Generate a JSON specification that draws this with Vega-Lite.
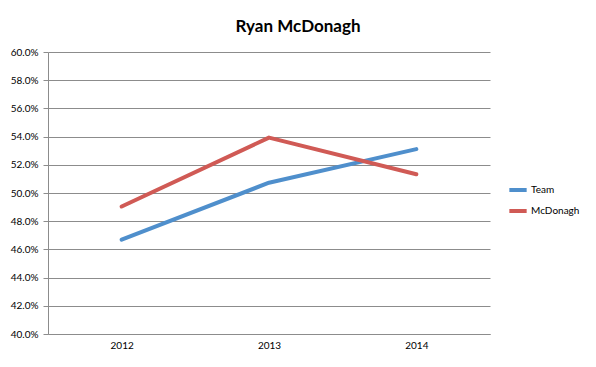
{
  "$schema": "https://vega.github.io/schema/vega-lite/v6.json",
  "width": 442,
  "height": 282,
  "autosize": {"type": "none"},
  "padding": {"left": 48, "top": 52, "right": 106, "bottom": 33},
  "background": "white",
  "title": {
    "text": "Ryan McDonagh",
    "font": "Lato",
    "fontSize": 17,
    "fontWeight": "bold",
    "color": "black",
    "anchor": "middle",
    "dx": 29,
    "offset": 11
  },
  "data": {
    "values": [
      {"year": "2012", "series": "Team", "value": 0.4669},
      {"year": "2013", "series": "Team", "value": 0.5073},
      {"year": "2014", "series": "Team", "value": 0.5311},
      {"year": "2012", "series": "McDonagh", "value": 0.4904},
      {"year": "2013", "series": "McDonagh", "value": 0.5393},
      {"year": "2014", "series": "McDonagh", "value": 0.5133}
    ]
  },
  "mark": {"type": "line", "strokeWidth": 4, "strokeCap": "round", "strokeJoin": "round"},
  "encoding": {
    "x": {
      "field": "year",
      "type": "ordinal",
      "scale": {"type": "point", "padding": 0.5},
      "axis": {
        "title": null,
        "labelAngle": 0,
        "labelFont": "Lato",
        "labelFontSize": 10,
        "labelColor": "black",
        "labelPadding": 6,
        "grid": false,
        "domainColor": "#8c8c8c",
        "ticks": false
      }
    },
    "y": {
      "field": "value",
      "type": "quantitative",
      "scale": {"domain": [0.4, 0.6], "nice": false, "zero": false},
      "axis": {
        "title": null,
        "format": ".1%",
        "values": [0.4, 0.42, 0.44, 0.46, 0.48, 0.5, 0.52, 0.54, 0.56, 0.58, 0.6],
        "labelFont": "Lato",
        "labelFontSize": 10,
        "labelColor": "black",
        "labelPadding": 5,
        "tickSize": 5,
        "tickColor": "#8c8c8c",
        "domainColor": "#8c8c8c",
        "gridColor": "#8c8c8c",
        "gridOpacity": 1,
        "gridWidth": 1
      }
    },
    "color": {
      "field": "series",
      "type": "nominal",
      "scale": {"domain": ["Team", "McDonagh"], "range": ["#4f8fcc", "#d05a55"]},
      "legend": {
        "title": null,
        "orient": "none",
        "legendX": 459,
        "legendY": 127,
        "direction": "vertical",
        "symbolType": "stroke",
        "symbolSize": 300,
        "symbolStrokeWidth": 4,
        "labelFont": "Lato",
        "labelFontSize": 10,
        "labelColor": "black",
        "rowPadding": 2,
        "labelOffset": 2
      }
    }
  },
  "config": {
    "view": {"stroke": null}
  }
}
